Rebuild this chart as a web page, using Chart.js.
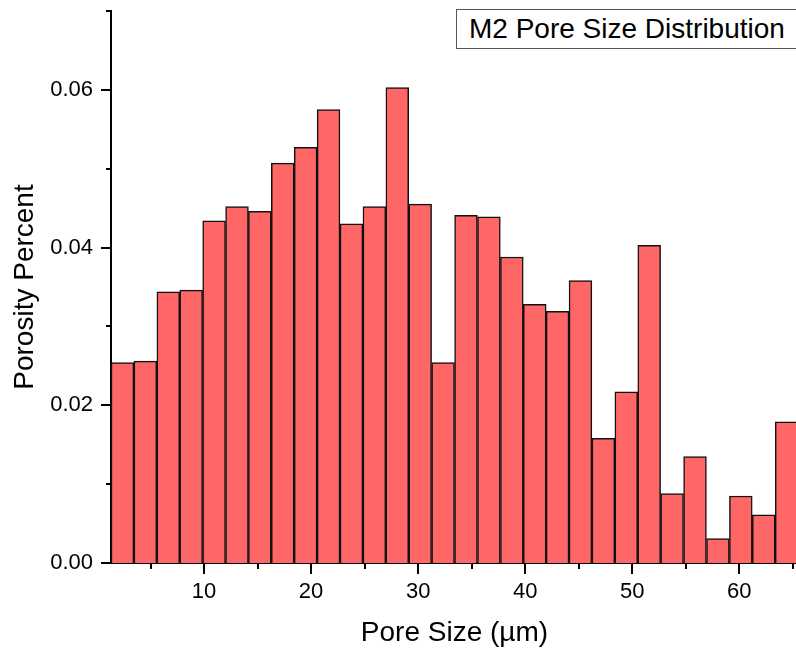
<!DOCTYPE html>
<html>
<head>
<meta charset="utf-8">
<script src="https://cdn.jsdelivr.net/npm/chart.js@4"></script>
<style>
  html, body { margin: 0; padding: 0; background: #fff; overflow: hidden; }
  #wrap { position: relative; width: 800px; height: 653px; }
  #legendBox {
    position: absolute; left: 456px; top: 9px; width: 336px; height: 38px;
    border: 1px solid #555; background: #fff;
    font-family: 'Liberation Sans', Arial, sans-serif; font-size: 28px;
    line-height: 38px; color: #000; padding-left: 12px; box-sizing: content-box;
    white-space: nowrap;
  }
</style>
</head>
<body>
<div id="wrap">
  <canvas id="c"></canvas>
  <div id="legendBox">M2 Pore Size Distribution</div>
</div>
<script>
// ---- data ----
const binCenters = [2.38, 4.52, 6.66, 8.80, 10.94, 13.08, 15.21, 17.35, 19.49, 21.63,
                    23.77, 25.91, 28.05, 30.19, 32.33, 34.47, 36.61, 38.75, 40.89, 43.02,
                    45.16, 47.30, 49.44, 51.58, 53.72, 55.86, 58.00, 60.14, 62.28, 64.42];
const porosity = [0.0254, 0.0256, 0.0344, 0.0346, 0.0434, 0.0452, 0.0446, 0.0507, 0.0527, 0.0575,
                  0.0430, 0.0452, 0.0603, 0.0455, 0.0254, 0.0441, 0.0439, 0.0388, 0.0328, 0.0319,
                  0.0358, 0.0158, 0.0217, 0.0403, 0.0088, 0.0135, 0.0031, 0.0085, 0.0061, 0.0179];
const xMajorTicks = [10, 20, 30, 40, 50, 60];
const xMinorTicks = [5, 15, 25, 35, 45, 55, 65];
const yMajorTicks = [0, 0.02, 0.04, 0.06];
const yMinorTicks = [0.01, 0.03, 0.05, 0.07];
const xTitle = 'Pore Size (\u00b5m)';
const yTitle = 'Porosity Percent';

const FONT = "'Liberation Sans', Arial, sans-serif";

const tickPlugin = {
  id: 'tickMarks',
  afterDraw(chart) {
    const ctx = chart.ctx;
    const xs = chart.scales.x, ys = chart.scales.y;
    const area = chart.chartArea;
    ctx.save();
    ctx.strokeStyle = '#000';
    ctx.lineWidth = 2;
    ctx.beginPath();
    const yb = area.bottom;
    xMajorTicks.forEach(v => { const p = Math.round(xs.getPixelForValue(v)); ctx.moveTo(p, yb); ctx.lineTo(p, yb + 11); });
    xMinorTicks.forEach(v => { const p = Math.round(xs.getPixelForValue(v)); ctx.moveTo(p, yb); ctx.lineTo(p, yb + 6); });
    const xl = area.left;
    yMajorTicks.forEach(v => { const p = Math.round(ys.getPixelForValue(v)); ctx.moveTo(xl, p); ctx.lineTo(xl - 10, p); });
    yMinorTicks.forEach(v => { const p = Math.round(ys.getPixelForValue(v)); ctx.moveTo(xl, p); ctx.lineTo(xl - 5, p); });
    ctx.stroke();
    ctx.restore();
  }
};

new Chart(document.getElementById('c'), {
  type: 'bar',
  data: {
    datasets: [{
      data: binCenters.map((x, i) => ({ x: x, y: porosity[i] })),
      backgroundColor: '#FF6666',
      borderColor: '#111',
      borderWidth: 1.5,
      barPercentage: 1,
      categoryPercentage: 1
    }]
  },
  options: {
    responsive: true,
    maintainAspectRatio: false,
    animation: false,
    layout: { padding: { top: 11, right: 2, left: 0, bottom: 0 } },
    plugins: { legend: { display: false }, tooltip: { enabled: false }, title: { display: false } },
    scales: {
      x: {
        type: 'linear',
        offset: false,
        min: 1.31,
        max: 65.48,
        grid: { display: false, drawTicks: false, offset: false },
        border: { display: true, color: '#000', width: 2 },
        afterBuildTicks: s => { s.ticks = xMajorTicks.map(v => ({ value: v })); },
        afterFit: s => { s.height = 90; s.paddingLeft = 0; s.paddingRight = 0; },
        ticks: {
          color: '#000', font: { family: FONT, size: 22 }, padding: 16,
          maxRotation: 0, autoSkip: false,
          callback: v => String(v)
        },
        title: { display: true, text: xTitle, color: '#000', font: { family: FONT, size: 28 }, padding: { top: 0, bottom: 3 } }
      },
      y: {
        type: 'linear',
        min: 0,
        max: 0.07,
        grid: { display: false, drawTicks: false },
        border: { display: true, color: '#000', width: 2 },
        afterBuildTicks: s => { s.ticks = yMajorTicks.map(v => ({ value: v })); },
        afterFit: s => { s.width = 111; s.paddingTop = 0; s.paddingBottom = 0; },
        ticks: {
          color: '#000', font: { family: FONT, size: 22 }, padding: 18,
          callback: v => Number(v).toFixed(2)
        },
        title: { display: true, text: yTitle, color: '#000', font: { family: FONT, size: 28 }, padding: { top: 8, bottom: 0 } }
      }
    }
  },
  plugins: [tickPlugin]
});
</script>
</body>
</html>
